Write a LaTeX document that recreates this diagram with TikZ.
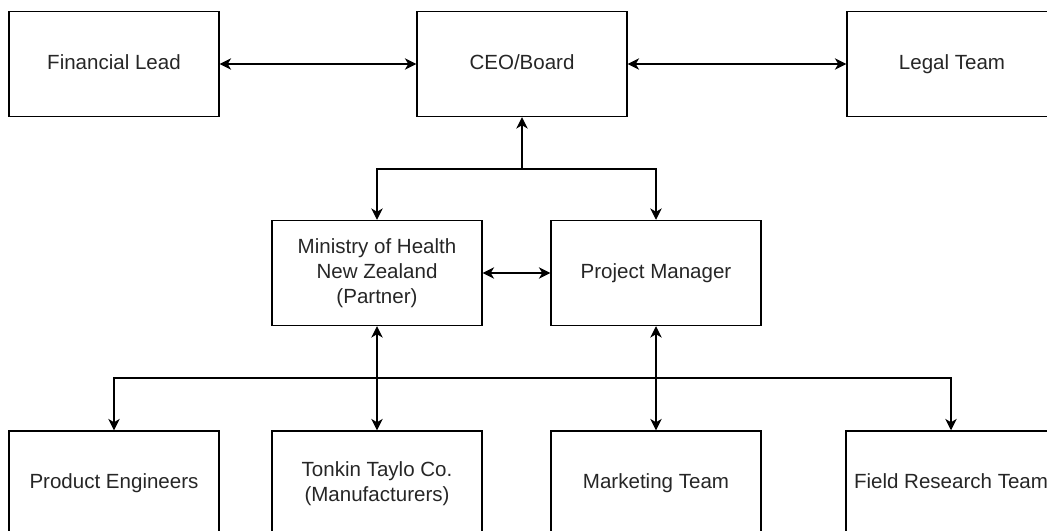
\documentclass[tikz,border=0pt]{standalone}
\usepackage{fontspec}
\setmainfont{Liberation Sans}
\usepackage{tikz}
\usetikzlibrary{arrows.meta}

\newcommand\boxstrut{\rule[-3pt]{0pt}{14pt}}

\tikzset{
    box/.style={draw, line width=1.1pt, minimum width=157.5pt, minimum height=78.75pt,
        align=center, inner sep=0pt, font=\fontsize{15.4}{18.6}\selectfont, text=black!85,
        execute at begin node=\boxstrut},
    link/.style={line width=1.1pt, {Stealth[length=8.5pt,width=8.5pt,inset=2.5pt]}-{Stealth[length=8.5pt,width=8.5pt,inset=2.5pt]}},
    down/.style={line width=1.1pt, -{Stealth[length=8.5pt,width=8.5pt,inset=2.5pt]}}
}

\begin{document}
\begin{tikzpicture}[x=0.75pt,y=-0.75pt]
            \useasboundingbox (0,0) rectangle (1047,531);
            \node[box] (fin) at (114,64) {Financial Lead};
            \node[box] (ceo) at (522,64) {CEO/Board};
            \node[box] (legal) at (952,64) {Legal Team};
            \node[box] (moh) at (377,273) {Ministry of Health\\New Zealand\\(Partner)};
            \node[box] (pm) at (656,273) {Project Manager};
            \node[box] (eng) at (114,483.5) {Product Engineers};
            \node[box] (tonkin) at (377,483.5) {Tonkin Taylo Co.\\(Manufacturers)};
            \node[box] (mkt) at (656,483.5) {Marketing Team};
            \node[box] (field) at (951,483.5) {Field Research Team};
            \coordinate (top) at (522,169);
            \coordinate (split) at (516,378);
            \draw[link] (fin) -- (ceo);
            \draw[link] (ceo) -- (legal);
            \draw[down] (top) -- (ceo);
            \draw[down] (top) -| (moh);
            \draw[down] (top) -| (pm);
            \draw[link] (moh) -- (pm);
            \draw[link] (moh) -- (tonkin);
            \draw[link] (pm) -- (mkt);
            \draw[down] (split) -| (eng);
            \draw[down] (split) -| (field);
        \end{tikzpicture}
\end{document}
